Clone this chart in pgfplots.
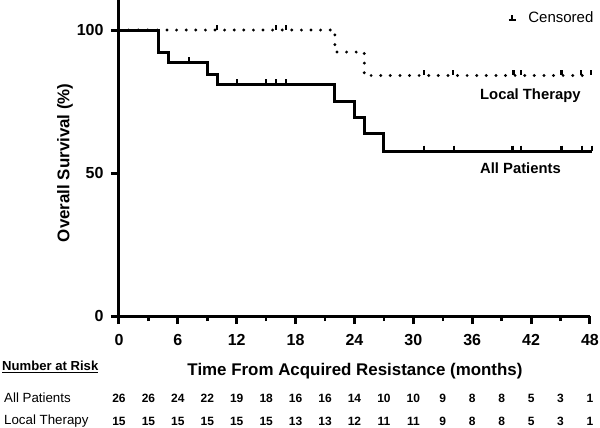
\documentclass[border=0pt]{standalone}
\usepackage{pgfplots}
\pgfplotsset{compat=1.18}
\usepackage{fontspec}
\setmainfont{Liberation Sans}
\pgfplotstableread{
x y n
0 -28.7 26
3 -28.7 26
6 -28.7 24
9 -28.7 22
12 -28.7 19
15 -28.7 18
18 -28.7 16
21 -28.7 16
24 -28.7 14
27 -28.7 10
30 -28.7 10
33 -28.7 9
36 -28.7 8
39 -28.7 8
42 -28.7 5
45 -28.7 3
48 -28.7 1
}\riskall
\pgfplotstableread{
x y n
0 -36.7 15
3 -36.7 15
6 -36.7 15
9 -36.7 15
12 -36.7 15
15 -36.7 15
18 -36.7 13
21 -36.7 13
24 -36.7 12
27 -36.7 11
30 -36.7 11
33 -36.7 9
36 -36.7 8
39 -36.7 8
42 -36.7 5
45 -36.7 3
48 -36.7 1
}\risklocal
\begin{document}
\begin{tikzpicture}
\begin{axis}[
 scale only axis, width=471bp, height=316bp,
 xmin=0, xmax=48, ymin=0, ymax=110.5,
 axis lines=left, axis line style={-, line width=3bp},
 clip=false,
 xtick={0,6,...,48}, minor xtick={3,9,...,45}, ytick={0,50,100},
 tick align=outside,
 major tick length=8bp, minor tick length=5bp,
 tick style={line width=3bp, black},
 minor tick style={line width=2.6bp, black},
 /pgf/number format/assume math mode=true,
 ticklabel style={font=\fontsize{16bp}{19bp}\selectfont\bfseries},
 xticklabel style={yshift=-7bp},
 yticklabel style={xshift=-4bp},
 xlabel={Time From Acquired Resistance (months)},
 ylabel={Overall Survival (\%)},
 label style={font=\fontsize{16.9bp}{20bp}\selectfont\bfseries},
 xlabel style={at={(0.501,-0.176)}, anchor=center},
 ylabel style={at={(-0.1146,0.485)}, anchor=center},
 legend style={draw=none, fill=none, at={(axis cs:39.6,104.2)}, anchor=west,
   font=\fontsize{15bp}{18bp}\selectfont, inner sep=0pt, legend cell align=left},
]
\addlegendimage{legend image code/.code={
  \draw[line width=1.6bp, black] (0bp,-2bp) -- (7bp,-2bp);
  \draw[line width=2bp, black] (3.5bp,-2bp) -- (3.5bp,3bp);}}
\addlegendentry{\hspace{10bp}Censored}
% All Patients
\addplot[forget plot, const plot mark left, line width=3bp, black] coordinates {
 (0,100) (4,92.3) (5,88.5) (9,84.6) (10,80.8) (22,75.0) (24,69.5) (25,63.9) (27,57.6) (48.2,57.6)};
% Local Therapy
\addplot[forget plot, const plot mark left, line width=3.2bp, black, dash pattern=on 0bp off 9.6bp, line cap=round] coordinates {
 (0,100) (22,92.3) (25,84.1) (48.1,84.1)};
% censor marks
\addplot[forget plot, only marks, mark=|, mark size=2.6bp, black, mark options={line width=2.2bp, yshift=3bp}] coordinates {
 (7.1,88.5) (12,80.8) (15,80.8) (16,80.8) (17,80.8)
 (31.1,57.6) (34.1,57.6) (40.1,57.6) (41,57.6) (45.1,57.6) (47.2,57.6) (48.2,57.6)};
\addplot[forget plot, only marks, mark=|, mark size=2.4bp, black, mark options={line width=2.2bp, yshift=2.6bp}] coordinates {
 (10,100) (16,100) (17,100)
 (31.1,84.1) (34,84.1) (40.2,84.1) (41,84.1) (45.1,84.1) (47.1,84.1) (48.1,84.1)};
% risk table
\addplot[forget plot, draw=none, nodes near coords, point meta=explicit symbolic,
  nodes near coords style={anchor=center, font=\fontsize{12bp}{14bp}\selectfont\bfseries}]
  table[x=x, y=y, meta=n] {\riskall};
\addplot[forget plot, draw=none, nodes near coords, point meta=explicit symbolic,
  nodes near coords style={anchor=center, font=\fontsize{12bp}{14bp}\selectfont\bfseries}]
  table[x=x, y=y, meta=n] {\risklocal};
% text labels
\node[anchor=west, inner sep=0pt, font=\fontsize{14.8bp}{17bp}\selectfont\bfseries] at (axis cs:36.79,77.0) {Local Therapy};
\node[anchor=west, inner sep=0pt, font=\fontsize{14.8bp}{17bp}\selectfont\bfseries] at (axis cs:36.79,51.6) {All Patients};
\node[anchor=west, inner sep=0pt, font=\fontsize{13.1bp}{15bp}\selectfont\bfseries] at (axis cs:-11.92,-17.8) {\underline{Number at Risk}};
\node[anchor=west, inner sep=0pt, font=\fontsize{13.3bp}{15bp}\selectfont] at (axis cs:-11.72,-28.7) {All Patients};
\node[anchor=west, inner sep=0pt, font=\fontsize{13.3bp}{15bp}\selectfont] at (axis cs:-11.72,-36.7) {Local Therapy};
\coordinate (BL) at (axis cs:-12.127,-39.16);
\coordinate (TR) at (axis cs:49.02,110.5);
\end{axis}
\pgfresetboundingbox
\path[use as bounding box] (BL) rectangle (TR);
\end{tikzpicture}
\end{document}
